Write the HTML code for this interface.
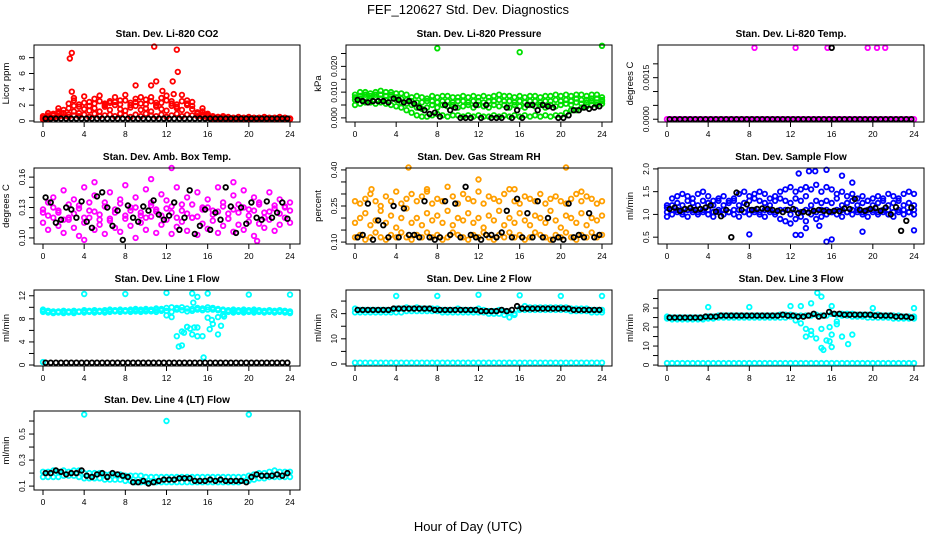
<!DOCTYPE html>
<html><head><meta charset="utf-8"><style>
html,body{margin:0;padding:0;background:#fff;}
svg{display:block;font-family:"Liberation Sans",Arial,sans-serif;}
</style></head><body>
<svg id="chart" width="936" height="540" viewBox="0 0 936 540">
<text x="468" y="14" text-anchor="middle" font-size="13">FEF_120627  Std. Dev. Diagnostics</text>
<text x="468" y="531" text-anchor="middle" font-size="13">Hour of Day (UTC)</text>
</svg>
<script>
// ---- data (hourly samples 0..24 every 0.5 h) ----
const xTicks = [0,4,8,12,16,20,24];
const p1Red = [0.6,0.5,0.7,0.9,1.0,0.8,1.2,1.0,1.5,1.3,1.6,1.2,1.8,1.4,2.0,1.5,1.3,1.7,1.9,1.4,1.6,1.2,1.8,1.5,1.3,1.9,1.6,1.4,2.0,1.5,1.1,0.8,0.6,0.5,0.4,0.4,0.4,0.3,0.4,0.3,0.4,0.3,0.3,0.4,0.3,0.3,0.4,0.3,0.3];
const p1RedHi = [0.3,1.0,0.4,1.6,0.6,2.2,2.6,1.8,3.1,2.4,2.8,3.2,2.2,2.5,3.0,2.6,3.3,2.3,2.8,3.0,2.7,3.0,2.3,2.9,3.2,2.5,2.1,3.3,2.6,2.4,1.0,1.6,0.9,0.6,0.5,0.6,0.5,0.4,0.5,0.4,0.5,0.4,0.4,0.5,0.4,0.4,0.5,0.4,0.3];
const p1RedMid = [0.4,0.7,0.9,1.2,1.4,1.6,1.9,2.1,2.3,1.9,2.2,2.5,2.0,2.3,2.4,2.1,2.6,2.0,2.4,2.2,2.1,2.5,2.0,2.3,2.6,2.2,1.8,2.5,2.2,1.9,0.9,1.2,0.8,0.5,0.5,0.5,0.4,0.4,0.4,0.4,0.4,0.4,0.4,0.4,0.4,0.4,0.4,0.4,0.3];
const p1RedLo = [0.2,0.3,0.4,0.5,0.6,0.5,0.7,0.6,0.8,0.5,0.9,0.6,0.7,0.8,0.6,0.9,0.7,0.5,0.8,0.6,0.9,0.7,0.6,0.8,0.5,0.7,0.9,0.6,0.8,0.7,0.6,0.5,0.4,0.3,0.3,0.3,0.3,0.2,0.3,0.2,0.3,0.2,0.3,0.2,0.3,0.2,0.3,0.2,0.2];
const p1Out = [[2.6,7.9],[2.8,8.6],[2.8,3.7],[3.0,2.9],[10.8,9.4],[11.0,5.0],[12.6,5.0],[13.0,9.0],[13.1,6.2],[9.0,4.5],[12.7,3.4],[10.5,4.5],[11.6,3.8]];
const p1Black = [0.3,0.3,0.3,0.3,0.3,0.3,0.3,0.3,0.3,0.3,0.3,0.3,0.3,0.3,0.3,0.3,0.3,0.3,0.3,0.3,0.3,0.3,0.3,0.3,0.3,0.3,0.3,0.3,0.3,0.3,0.3,0.3,0.3,0.3,0.3,0.3,0.3,0.3,0.3,0.3,0.3,0.3,0.3,0.3,0.3,0.3,0.3,0.3,0.3];

const p2Hi = [0.009,0.010,0.010,0.0095,0.010,0.0105,0.010,0.010,0.0095,0.0095,0.009,0.008,0.0085,0.008,0.0075,0.0085,0.008,0.0085,0.0085,0.008,0.008,0.0085,0.008,0.0085,0.008,0.0085,0.008,0.0085,0.009,0.0085,0.0085,0.008,0.0085,0.008,0.0085,0.0085,0.008,0.0085,0.0085,0.009,0.0085,0.009,0.0085,0.009,0.009,0.0085,0.009,0.009,0.008];
const p2Mid = [0.007,0.0075,0.008,0.0075,0.008,0.0075,0.007,0.0075,0.007,0.006,0.0055,0.005,0.004,0.0035,0.004,0.005,0.004,0.005,0.0045,0.005,0.004,0.0045,0.005,0.004,0.005,0.0045,0.004,0.005,0.0045,0.005,0.004,0.005,0.0045,0.004,0.005,0.0045,0.005,0.004,0.005,0.0045,0.005,0.0055,0.005,0.006,0.0055,0.006,0.0065,0.006,0.0065];
const p2Mid2 = [0.008,0.0085,0.009,0.0085,0.009,0.009,0.0085,0.009,0.008,0.0075,0.007,0.0065,0.006,0.006,0.0065,0.0065,0.006,0.0065,0.0065,0.006,0.0065,0.0065,0.006,0.0065,0.0065,0.006,0.0065,0.0065,0.007,0.0065,0.0065,0.006,0.0065,0.006,0.0065,0.0065,0.006,0.0065,0.0065,0.007,0.0065,0.007,0.0065,0.0075,0.007,0.007,0.0075,0.0075,0.007];
const p2Lo = [0.005,0.0055,0.006,0.006,0.0055,0.006,0.0055,0.005,0.0045,0.004,0.003,0.002,0.001,0.0005,0.0005,0.001,0.0015,0.001,0.0005,0.001,0.001,0.0005,0.001,0.0005,0.001,0.0005,0.0005,0.001,0.0005,0.001,0.0005,0.001,0.0005,0.001,0.0005,0.001,0.0005,0.001,0.0005,0.001,0.001,0.002,0.003,0.003,0.004,0.0045,0.005,0.005,0.0055];
const p2Out = [[8,0.027],[16,0.0255],[24,0.028]];
const p2Black = [0.006,0.007,0.0065,0.006,0.0065,0.0065,0.0065,0.006,0.0075,0.007,0.006,0.0065,0.0055,0.004,0.003,0.0015,0.002,0.0005,0.005,0.003,0.004,0.0,0.0,0.0,0.005,0.0,0.005,0.0,0.0,0.0,0.004,0.0,0.003,0.0,0.005,0.005,0.003,0.005,0.0045,0.004,0.0,0.0,0.001,0.003,0.003,0.004,0.0035,0.004,0.0045];

const p3Mag = [0,0,0,0,0,0,0,0,0,0,0,0,0,0,0,0,0,0,0,0,0,0,0,0,0,0,0,0,0,0,0,0,0,0,0,0,0,0,0,0,0,0,0,0,0,0,0,0,0];
const p3Out = [[8.5,0.00258],[12.5,0.00258],[15.6,0.00258],[19.5,0.00258],[20.4,0.00258],[21.2,0.00258]];
const p3Black = [0,0,0,0,0,0,0,0,0,0,0,0,0,0,0,0,0,0,0,0,0,0,0,0,0,0,0,0,0,0,0,0,0,0,0,0,0,0,0,0,0,0,0,0,0,0,0,0,0];
const p3BlackOut = [[16,0.00258]];

const p4A = [0.128,0.135,0.14,0.125,0.147,0.12,0.138,0.132,0.15,0.127,0.142,0.118,0.135,0.145,0.125,0.138,0.152,0.13,0.14,0.122,0.148,0.135,0.128,0.143,0.137,0.125,0.15,0.133,0.14,0.12,0.145,0.13,0.138,0.127,0.15,0.135,0.124,0.142,0.133,0.147,0.128,0.14,0.135,0.125,0.145,0.132,0.138,0.13,0.135];
const p4B = [0.115,0.108,0.12,0.112,0.105,0.118,0.11,0.102,0.115,0.12,0.108,0.113,0.104,0.117,0.11,0.106,0.119,0.112,0.1,0.115,0.108,0.121,0.105,0.113,0.118,0.104,0.111,0.116,0.107,0.12,0.103,0.114,0.109,0.117,0.105,0.112,0.119,0.106,0.113,0.108,0.116,0.102,0.114,0.11,0.118,0.107,0.113,0.12,0.115];
const p4C = [0.125,0.122,0.13,0.127,0.118,0.133,0.124,0.129,0.12,0.135,0.126,0.123,0.131,0.119,0.128,0.134,0.122,0.127,0.13,0.125,0.12,0.132,0.126,0.122,0.129,0.131,0.12,0.127,0.124,0.133,0.121,0.128,0.13,0.123,0.126,0.131,0.119,0.128,0.125,0.13,0.122,0.127,0.133,0.12,0.126,0.129,0.124,0.131,0.127];
const p4Out = [[12.5,0.169],[5.0,0.155],[10.5,0.158],[18.5,0.155],[4.0,0.098],[20.8,0.097]];
const p4Black = [0.13,0.14,0.135,0.115,0.118,0.13,0.128,0.12,0.136,0.116,0.11,0.141,0.145,0.13,0.112,0.127,0.098,0.132,0.12,0.116,0.131,0.127,0.137,0.123,0.118,0.122,0.135,0.108,0.12,0.147,0.104,0.112,0.128,0.108,0.125,0.118,0.15,0.131,0.105,0.13,0.114,0.135,0.12,0.118,0.136,0.12,0.125,0.135,0.119];

const p5Lo = [0.12,0.13,0.11,0.12,0.14,0.12,0.11,0.13,0.12,0.14,0.12,0.11,0.13,0.12,0.14,0.12,0.13,0.11,0.12,0.14,0.13,0.12,0.11,0.13,0.12,0.14,0.12,0.11,0.13,0.12,0.14,0.12,0.13,0.11,0.12,0.14,0.13,0.12,0.11,0.13,0.12,0.14,0.12,0.11,0.13,0.12,0.14,0.12,0.13];
const p5Mid = [0.18,0.2,0.22,0.17,0.19,0.23,0.18,0.21,0.16,0.2,0.24,0.18,0.2,0.17,0.22,0.19,0.21,0.18,0.23,0.17,0.2,0.19,0.22,0.18,0.2,0.16,0.21,0.19,0.23,0.17,0.2,0.18,0.22,0.19,0.17,0.21,0.2,0.18,0.23,0.19,0.16,0.21,0.2,0.18,0.22,0.17,0.2,0.19,0.21];
const p5Hi = [0.27,0.26,0.28,0.3,0.27,0.25,0.29,0.27,0.31,0.26,0.28,0.3,0.27,0.29,0.32,0.26,0.28,0.27,0.33,0.29,0.26,0.3,0.28,0.27,0.31,0.26,0.29,0.28,0.27,0.3,0.32,0.27,0.26,0.29,0.28,0.27,0.3,0.26,0.28,0.29,0.27,0.26,0.28,0.3,0.27,0.29,0.28,0.26,0.27];
const p5Out = [[5.2,0.41],[20.5,0.41],[12.0,0.36],[1.6,0.32],[7.0,0.31],[15.5,0.32],[22.0,0.31]];
const p5Black = [0.12,0.12,0.13,0.26,0.11,0.19,0.17,0.12,0.25,0.12,0.24,0.13,0.13,0.12,0.27,0.12,0.11,0.12,0.27,0.13,0.26,0.12,0.33,0.13,0.12,0.11,0.13,0.13,0.12,0.14,0.23,0.12,0.28,0.12,0.22,0.12,0.27,0.12,0.2,0.11,0.12,0.11,0.26,0.12,0.13,0.12,0.22,0.12,0.13];

const p6Hi = [1.2,1.35,1.4,1.45,1.4,1.35,1.45,1.5,1.4,1.3,1.35,1.4,1.3,1.35,1.45,1.5,1.4,1.45,1.5,1.45,1.35,1.4,1.5,1.55,1.6,1.5,1.55,1.6,1.55,1.65,1.5,1.6,1.55,1.45,1.5,1.4,1.45,1.35,1.4,1.3,1.35,1.4,1.35,1.45,1.4,1.35,1.45,1.5,1.45];
const p6Mid = [1.15,1.2,1.25,1.2,1.3,1.25,1.2,1.3,1.25,1.2,1.3,1.2,1.25,1.3,1.2,1.25,1.3,1.35,1.3,1.25,1.2,1.3,1.35,1.3,1.25,1.35,1.3,1.4,1.2,1.3,1.25,1.3,1.25,1.35,1.2,1.25,1.3,1.2,1.25,1.3,1.2,1.25,1.3,1.2,1.25,1.3,1.2,1.25,1.2];
const p6Mid2 = [1.05,1.1,1.1,1.05,1.1,1.1,1.05,1.1,1.1,1.05,1.1,1.1,1.05,1.1,1.1,1.05,1.1,1.1,1.05,1.1,1.1,1.05,1.1,1.1,1.0,1.1,1.05,1.1,1.1,1.05,1.1,1.1,1.05,1.1,1.1,1.05,1.1,1.1,1.05,1.1,1.1,1.05,1.1,1.1,1.05,1.1,1.1,1.05,1.1];
const p6Lo = [0.95,1.0,1.05,1.0,0.95,1.05,1.0,1.05,1.0,0.95,1.05,1.0,1.05,1.0,0.95,1.05,1.0,1.05,1.0,0.95,1.05,1.0,0.9,0.85,0.8,0.9,0.95,0.85,1.0,0.9,0.95,1.0,1.05,1.0,0.95,1.05,1.0,1.05,1.0,0.95,1.05,1.0,1.05,1.0,0.95,1.05,1.0,1.05,1.0];
const p6Out = [[15.5,1.98],[14.4,1.95],[13.8,1.95],[12.8,1.9],[17,1.85],[18,1.7],[12.5,0.55],[13,0.55],[15.5,0.4],[16,0.45],[8,0.56],[19,0.62],[24,0.65],[13.5,0.7],[14.8,0.75]];
const p6Black = [1.1,1.12,1.15,1.08,1.12,1.14,1.1,1.12,1.15,1.2,1.06,0.96,1.1,0.5,1.48,1.1,1.22,1.1,1.12,1.13,1.12,1.1,1.08,1.05,1.1,1.12,1.03,1.06,1.04,1.08,1.1,1.08,1.06,1.08,1.07,1.13,1.12,1.34,1.1,1.08,1.12,1.14,1.08,1.15,1.0,1.16,0.64,0.86,1.15];

const p7Hi = [9.6,9.4,9.3,9.3,9.4,9.3,9.4,9.3,9.5,9.4,9.5,9.4,9.5,9.6,9.5,9.6,9.5,9.6,9.7,9.6,9.7,9.6,9.8,9.7,9.9,10.0,9.9,10.0,9.8,9.7,9.9,9.8,10.0,9.9,9.7,9.6,9.5,9.6,9.5,9.6,9.5,9.6,9.5,9.4,9.5,9.4,9.5,9.4,9.3];
const p7Mid = [9.4,9.2,9.1,9.2,9.2,9.2,9.2,9.2,9.3,9.3,9.3,9.3,9.3,9.4,9.4,9.4,9.4,9.4,9.5,9.4,9.5,9.4,9.5,9.5,9.4,9.2,9.6,9.5,9.3,9.4,9.6,9.5,9.6,9.6,9.5,9.4,9.3,9.4,9.3,9.4,9.3,9.4,9.3,9.3,9.3,9.3,9.3,9.3,9.2];
const p7Lo = [9.2,9.1,9.0,9.1,9.0,9.1,9.0,9.2,9.1,9.2,9.1,9.2,9.1,9.2,9.3,9.2,9.3,9.2,9.3,9.2,9.3,9.3,9.2,9.4,8.6,8.3,5.0,3.4,6.6,5.3,6.5,5.0,8.2,7.1,8.3,8.7,9.2,9.1,9.2,9.1,9.2,9.1,9.2,9.1,9.2,9.1,9.2,9.1,9.0];
const p7Out = [[4,12.3],[8,12.3],[12,12.5],[14.5,12.4],[16,12.4],[20,12.2],[24,12.2],[15,11.8],[13.2,3.2],[13.5,5.8],[14,6.6],[14.3,6.3],[15,5.0],[15.6,1.3],[16.2,6.2],[16.4,7.8],[17,5.3],[17.3,6.8],[17.6,8.4],[13.7,5.6],[14.7,6.5],[14.6,10.8],[0,0.5]];
const p7Black = [0.4,0.4,0.4,0.4,0.4,0.4,0.4,0.4,0.4,0.4,0.4,0.4,0.4,0.4,0.4,0.4,0.4,0.4,0.4,0.4,0.4,0.4,0.4,0.4,0.4,0.4,0.4,0.4,0.4,0.4,0.4,0.4,0.4,0.4,0.4,0.4,0.4,0.4,0.4,0.4,0.4,0.4,0.4,0.4,0.4,0.4,0.4,0.4,0.4];

const p8Hi = [22,21.5,21.5,21.5,21.5,21.5,21.5,21.5,22,22,22.5,22,22.5,22,22,22,22,21.5,21.5,21.5,22,21.5,21.5,21.5,22,21.5,21,21,21.5,21,20.5,20,22,23,22.5,22.5,22.5,22.5,22.5,22.5,22.5,22.5,22,22,22,22,21.5,21.5,21.5];
const p8Lo = [20.5,20.5,20.5,20.5,20.5,20.5,20.5,20.5,20.5,20.5,21,21,21,21,21,21,21,20.5,20.5,20.5,20.5,20.5,20.5,20.5,20.5,20.5,20,20,20,19.5,18.5,19.5,21.5,21.5,21.5,21.5,21.5,21.5,21.5,21.5,21.5,21.5,21,21,21,21,20.5,20.5,20.5];
const p8Zero = [0.5,0.5,0.5,0.5,0.5,0.5,0.5,0.5,0.5,0.5,0.5,0.5,0.5,0.5,0.5,0.5,0.5,0.5,0.5,0.5,0.5,0.5,0.5,0.5,0.5,0.5,0.5,0.5,0.5,0.5,0.5,0.5,0.5,0.5,0.5,0.5,0.5,0.5,0.5,0.5,0.5,0.5,0.5,0.5,0.5,0.5,0.5,0.5,0.5];
const p8Out = [[4,27],[8,27],[12,27.5],[16,27.3],[20,27],[24,27]];
const p8Black = [21.5,21.5,21.5,21.5,21.5,21.5,21.5,21.5,22,22,22,22,22,22,22,22,21.5,21.5,21.5,21.5,21.5,21.5,21.5,21.5,21.5,21,21,21,21,21.5,21,21.5,23,22,22,22,22,22,22,22,22,22,22,21.5,21.5,21.5,21.5,21.5,21.5];

const p9Hi = [25.5,25,25,25,25,25,25,25,25.5,25.5,26,26,26,26,26,26,26,26,26,26,26,26,26.5,26.5,26.5,26,26,26,26,26.5,26,26,27,26.5,27,27,27,26.5,26.5,26.5,26.5,26.5,26,26,26,26,25.5,25.5,25.5];
const p9Lo = [24.5,24,24,24,24,24,24,24,24.5,24.5,25,25,25,25,25,25,25,25,25,25,25,25,25,25,25.5,23.5,22,19,16,14,9,13,16,21.5,26,26,25.5,25.5,25.5,25,25,25,25,25,24.5,24.5,24.5,24.5,24.5];
const p9Zero = [1,1,1,1,1,1,1,1,1,1,1,1,1,1,1,1,1,1,1,1,1,1,1,1,1,1,1,1,1,1,1,1,1,1,1,1,1,1,1,1,1,1,1,1,1,1,1,1,1];
const p9Out = [[4,30.5],[8,30.5],[12,31],[13,31],[14,32.5],[14.6,38],[15,36],[16,31],[20,30],[24,30],[15.2,8],[16,9.5],[15.8,12.5],[17,15],[17.6,11],[18,16],[14,18],[15,19],[15.8,20],[16.5,23],[13.5,15]];
const p9Black = [25,25,25,25,25,25,25,25,25.5,25.5,25.5,26,26,26,26,26,26,26,26,26,26,26,26,26.5,26,26,25.5,25.5,26,27,25.5,26,28,27,27,26.5,26.5,26.5,26.5,26.5,26.5,26,26,26,26,25.5,25.5,25.5,25];

const p10Hi = [0.21,0.21,0.22,0.21,0.22,0.21,0.22,0.22,0.2,0.2,0.2,0.2,0.19,0.19,0.19,0.19,0.18,0.18,0.18,0.18,0.17,0.17,0.17,0.17,0.17,0.17,0.17,0.17,0.17,0.17,0.17,0.17,0.17,0.17,0.17,0.17,0.17,0.17,0.17,0.17,0.18,0.19,0.2,0.2,0.21,0.22,0.21,0.21,0.21];
const p10Lo = [0.17,0.17,0.17,0.17,0.18,0.18,0.18,0.17,0.16,0.16,0.16,0.16,0.15,0.15,0.15,0.15,0.14,0.14,0.13,0.13,0.13,0.13,0.13,0.13,0.13,0.13,0.13,0.13,0.13,0.13,0.13,0.13,0.13,0.13,0.13,0.13,0.13,0.13,0.13,0.14,0.14,0.15,0.16,0.16,0.17,0.17,0.17,0.17,0.17];
const p10Out = [[4,0.65],[12,0.6],[20,0.65]];
const p10Black = [0.2,0.2,0.2,0.22,0.21,0.19,0.2,0.2,0.22,0.18,0.17,0.19,0.2,0.17,0.2,0.19,0.18,0.17,0.13,0.13,0.14,0.12,0.13,0.14,0.15,0.15,0.15,0.16,0.16,0.16,0.14,0.14,0.14,0.15,0.14,0.15,0.14,0.14,0.14,0.14,0.13,0.17,0.19,0.18,0.18,0.18,0.19,0.18,0.2];

const panels = [
 {id:'co2',title:'Stan. Dev. Li-820 CO2',ylab:'Licor ppm',col:0,row:0,dom:[-0.13,9.6],ticks:[0,2,4,6,8],labels:['0','2','4','6','8'],color:'#ff0000',series:[p1RedLo,p1Red,p1RedMid,p1RedHi],out:p1Out,black:p1Black,bout:[]},
 {id:'pressure',title:'Stan. Dev. Li-820 Pressure',ylab:'kPa',col:1,row:0,dom:[-0.0016,0.0283],ticks:[0,0.005,0.01,0.015,0.02,0.025],labels:['0.000','','0.010','','0.020',''],color:'#00e000',series:[p2Lo,p2Mid,p2Mid2,p2Hi],out:p2Out,black:p2Black,bout:[]},
 {id:'temp',title:'Stan. Dev. Li-820 Temp.',ylab:'degrees C',col:2,row:0,dom:[-0.0001,0.00268],ticks:[0,0.0005,0.001,0.0015,0.002],labels:['0.0000','','','0.0015',''],color:'#ff00ff',series:[p3Mag],out:p3Out,black:p3Black,bout:p3BlackOut},
 {id:'amb-box-temp',title:'Stan. Dev. Amb. Box Temp.',ylab:'degrees C',col:0,row:1,dom:[0.094,0.169],ticks:[0.10,0.11,0.12,0.13,0.14,0.15,0.16],labels:['0.10','','','0.13','','','0.16'],color:'#ff00ff',series:[p4B,p4C,p4A],out:p4Out,black:p4Black,bout:[]},
 {id:'gas-rh',title:'Stan. Dev. Gas Stream RH',ylab:'percent',col:1,row:1,dom:[0.092,0.408],ticks:[0.10,0.15,0.20,0.25,0.30,0.35,0.40],labels:['0.10','','','0.25','','','0.40'],color:'#ff9f00',series:[p5Lo,p5Mid,p5Hi],out:p5Out,black:p5Black,bout:[]},
 {id:'sample-flow',title:'Stan. Dev. Sample Flow',ylab:'ml/min',col:2,row:1,dom:[0.35,2.02],ticks:[0.5,1.0,1.5,2.0],labels:['0.5','1.0','1.5','2.0'],color:'#0000ff',series:[p6Lo,p6Mid2,p6Mid,p6Hi],out:p6Out,black:p6Black,bout:[]},
 {id:'line1',title:'Stan. Dev. Line 1 Flow',ylab:'ml/min',col:0,row:2,dom:[-0.17,13.0],ticks:[0,2,4,6,8,10,12],labels:['0','','4','','8','','12'],color:'#00ffff',series:[p7Lo,p7Mid,p7Hi],out:p7Out,black:p7Black,bout:[]},
 {id:'line2',title:'Stan. Dev. Line 2 Flow',ylab:'ml/min',col:1,row:2,dom:[-0.8,29.4],ticks:[0,5,10,15,20,25],labels:['0','','10','','20',''],color:'#00ffff',series:[p8Zero,p8Lo,p8Hi],out:p8Out,black:p8Black,bout:[]},
 {id:'line3',title:'Stan. Dev. Line 3 Flow',ylab:'ml/min',col:2,row:2,dom:[-0.5,39.5],ticks:[0,5,10,15,20,25,30,35],labels:['0','','10','','20','','30',''],color:'#00ffff',series:[p9Zero,p9Lo,p9Hi],out:p9Out,black:p9Black,bout:[]},
 {id:'line4',title:'Stan. Dev. Line 4 (LT) Flow',ylab:'ml/min',col:0,row:3,dom:[0.07,0.677],ticks:[0.1,0.2,0.3,0.4,0.5,0.6],labels:['0.1','','0.3','','0.5',''],color:'#00ffff',series:[p10Lo,p10Hi],out:p10Out,black:p10Black,bout:[]}
];
const colLeft=[34,346,658], boxW=266;
const rowTop=[45,168,290,411], rowBot=[122,244,366,490];
const NS='http://www.w3.org/2000/svg';
const svg=document.getElementById('chart');
function mk(tag,attrs,parent){const e=document.createElementNS(NS,tag);for(const k in attrs)e.setAttribute(k,attrs[k]);(parent||svg).appendChild(e);return e;}

panels.forEach(p=>{
  const L=colLeft[p.col],R=L+boxW,T=rowTop[p.row],B=rowBot[p.row];
  const xs=h=>L+9+h/24*(boxW-19);
  const ys=v=>B-(v-p.dom[0])/(p.dom[1]-p.dom[0])*(B-T);
  const g=mk('g',{});
  
  
  const t=mk('text',{x:(L+R)/2,y:T-8,'text-anchor':'middle','font-size':'10','font-weight':'bold'},g);
  t.textContent=p.title;
  
  
  const yl=mk('text',{x:0,y:0,'text-anchor':'middle','font-size':'9.5',transform:`translate(${L-25},${(T+B)/2}) rotate(-90)`},g);
  yl.textContent=p.ylab;
  
  
  const pg=mk('g',{fill:'none','stroke-width':'1.8'},g);
  
  
  function dot(h,v,c){
    const y=ys(v); if(y<T-1||y>B+1) return;
    const e=mk('circle',{cx:xs(h).toFixed(1),cy:y.toFixed(1),r:'2.3',stroke:c},pg);
    
    
  }
  p.series.forEach(s=>{const n=s.length;s.forEach((v,i)=>dot(i*24/(n-1),v,p.color));});
  p.out.forEach(o=>dot(o[0],o[1],p.color));
  const nb=p.black.length;
  p.black.forEach((v,i)=>{if(i>0)dot(i*24/(nb-1)-0.25,v,'#000');});
  p.bout.forEach(o=>dot(o[0],o[1],'#000'));
  const bx=mk('rect',{x:L,y:T,width:boxW,height:B-T,fill:'none',stroke:'#000','stroke-width':'1'},g);
  
  
  xTicks.forEach(h=>{
    const x=xs(h);
    mk('line',{x1:x,x2:x,y1:B,y2:B+5,stroke:'#000'},g);
    const tl=mk('text',{x:x,y:B+15,'text-anchor':'middle','font-size':'8.5'},g);
    tl.textContent=h;
    
    
  });
  p.ticks.forEach((v,i)=>{
    const y=ys(v);
    mk('line',{x1:L-5,x2:L,y1:y,y2:y,stroke:'#000'},g);
    if(p.labels[i]){
      const tl=mk('text',{x:0,y:0,'text-anchor':'middle','font-size':'8.5',transform:`translate(${L-9},${y}) rotate(-90)`},g);
      tl.textContent=p.labels[i];
      
      
    }
  });
});
</script>
</body></html>
